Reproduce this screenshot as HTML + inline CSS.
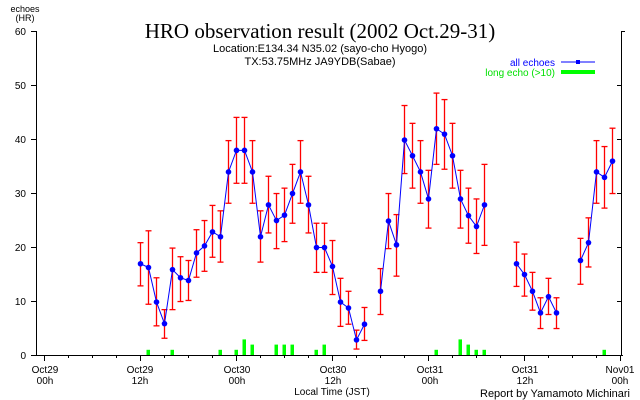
<!DOCTYPE html>
<html><head><meta charset="utf-8"><style>
html,body{margin:0;padding:0;background:#fff;}
svg{display:block;font-family:"Liberation Sans",sans-serif;}
</style></head><body>
<svg id="c" width="640" height="400" viewBox="0 0 640 400" xmlns="http://www.w3.org/2000/svg">
<rect width="640" height="400" fill="#fff"/>
<text x="25" y="12" font-size="9" text-anchor="middle">echoes</text>
<text x="25" y="21" font-size="9" text-anchor="middle">(HR)</text>
<text x="320" y="38" font-family="Liberation Serif,serif" font-size="21" text-anchor="middle">HRO observation result (2002 Oct.29-31)</text>
<text x="320" y="52" font-size="11" text-anchor="middle">Location:E134.34 N35.02 (sayo-cho Hyogo)</text>
<text x="320" y="65" font-size="11" text-anchor="middle">TX:53.75MHz JA9YDB(Sabae)</text>
<text x="555" y="66" font-size="10" fill="#0000ff" text-anchor="end">all echoes</text>
<line x1="561" y1="62" x2="595" y2="62" stroke="#0000ff" stroke-width="1"/>
<rect x="576" y="60" width="4" height="4" fill="#0000ff"/>
<text x="555" y="76" font-size="10" fill="#00e000" text-anchor="end">long echo (&gt;10)</text>
<rect x="561" y="70" width="34" height="4" fill="#00ff00"/>
<g font-size="10" text-anchor="end">
<text x="26" y="35">60</text><text x="26" y="89">50</text><text x="26" y="143">40</text>
<text x="26" y="197">30</text><text x="26" y="251">20</text><text x="26" y="305">10</text><text x="26" y="359">0</text>
</g>
<g font-size="10" text-anchor="middle">
<text x="45" y="373">Oct29</text><text x="45" y="384">00h</text>
<text x="140" y="373">Oct29</text><text x="140" y="384">12h</text>
<text x="237" y="373">Oct30</text><text x="237" y="384">00h</text>
<text x="333" y="373">Oct30</text><text x="333" y="384">12h</text>
<text x="430" y="373">Oct31</text><text x="430" y="384">00h</text>
<text x="525" y="373">Oct31</text><text x="525" y="384">12h</text>
<text x="620" y="373">Nov01</text><text x="620" y="384">00h</text>
<text x="332" y="395">Local Time (JST)</text>
</g>
<text x="630" y="397" font-size="11" text-anchor="end">Report by Yamamoto Michinari</text>
<g id="g"></g>
</svg>
<script>
var Y=function(v){return 355-v*5.4},X=function(h){return 44+8*h};
var s='';
s+='<line x1="36.5" y1="31" x2="36.5" y2="355" stroke="#000"/>';
s+='<line x1="621.5" y1="31" x2="621.5" y2="355" stroke="#000"/>';
s+='<line x1="36" y1="355.5" x2="623" y2="355.5" stroke="#000"/>';
for(var v=0;v<=60;v+=10){s+='<line x1="31" y1="'+(Y(v)+.5)+'" x2="36" y2="'+(Y(v)+.5)+'" stroke="#000"/>';
 if(v>0&&v<60)s+='<line x1="617" y1="'+(Y(v)+.5)+'" x2="621" y2="'+(Y(v)+.5)+'" stroke="#000"/>';}
s+='<line x1="621" y1="31.5" x2="625" y2="31.5" stroke="#000"/>';
for(var h=0;h<=72;h+=3){var L=(h%12==0)?6:3;s+='<line x1="'+(X(h)+.5)+'" y1="355" x2="'+(X(h)+.5)+'" y2="'+(355+L)+'" stroke="#000"/>';}
var bars=[[13,1],[16,1],[22,1],[24,1],[25,3],[26,2],[29,2],[30,2],[31,2],[34,1],[35,2],[49,1],[52,3],[53,2],[54,1],[55,1],[70,1]];
bars.forEach(function(b){s+='<rect x="'+(X(b[0])-1.5)+'" y="'+(355-b[1]*5.2)+'" width="3.5" height="'+(b[1]*5.2)+'" fill="#00ff00"/>';});
var D=[
[12,16.9,20.8,12.8],[13,16.2,23,9.4],[14,9.8,14.3,5.4],[15,5.8,8.4,3.1],[16,15.8,19.8,8.4],[17,14.3,18.2,9.9],[18,13.8,17.5,10.1],[19,18.9,23.2,14.4],[20,20.2,24.9,15.5],[21,22.8,27.7,18.1],[22,21.9,26.7,17.2],[23,33.9,39.7,28.1],[24,37.9,44,31.8],[25,37.9,44,31.8],[26,33.9,39.7,28.1],[27,21.9,26.7,17.2],[28,27.8,33.1,22.6],[29,24.9,29.9,19.7],[30,25.9,30.9,21],[31,29.9,35.3,24.4],[32,33.9,39.7,28.1],[33,27.8,33.1,22.6],[34,19.9,24.4,15.3],[35,19.9,24.4,15.3],[36,16.4,21.2,11.2],[37,9.8,14.2,5.3],[38,8.7,11.8,5.7],[39,2.8,4.6,1.1],[40,5.7,8.8,2.7],
null,[42,11.8,16,7.5],[43,24.8,29.9,19.7],[44,20.4,26,14.6],[45,39.8,46.2,33.6],[46,36.9,42.9,30.9],[47,33.9,39.7,28.1],[48,28.9,34.2,23.5],[49,41.9,48.5,35.3],[50,40.9,47.3,34.4],[51,36.9,42.9,30.9],[52,28.9,34.2,23.5],[53,25.8,30.9,20.7],[54,23.8,28.9,18.8],[55,27.8,35.3,20.3],
null,[59,16.9,20.9,12.7],[60,14.9,18.7,10.9],[61,11.8,15.3,8.3],[62,7.8,10.6,4.9],[63,10.8,14.2,7.5],[64,7.8,10.6,4.9],
null,[67,17.5,21.6,13.1],[68,20.8,25.4,16.3],[69,33.9,39.7,28.1],[70,32.9,38.6,27.2],[71,35.9,42,29.9]];
var seg=[],segs=[];
D.forEach(function(d){if(!d){segs.push(seg);seg=[];return;}seg.push(d);});segs.push(seg);
segs.forEach(function(sg){
 sg.forEach(function(d){var x=X(d[0])+.5;
  s+='<line x1="'+x+'" y1="'+Y(d[2])+'" x2="'+x+'" y2="'+Y(d[3])+'" stroke="#ff0000" stroke-width="1.3"/>';
  s+='<line x1="'+(x-3)+'" y1="'+Y(d[2])+'" x2="'+(x+3)+'" y2="'+Y(d[2])+'" stroke="#ff0000" stroke-width="1.3"/>';
  s+='<line x1="'+(x-3)+'" y1="'+Y(d[3])+'" x2="'+(x+3)+'" y2="'+Y(d[3])+'" stroke="#ff0000" stroke-width="1.3"/>';});
 s+='<polyline fill="none" stroke="#0000ff" stroke-width="1" points="'+sg.map(function(d){return (X(d[0])+.5)+','+Y(d[1])}).join(' ')+'"/>';
 sg.forEach(function(d){s+='<circle cx="'+(X(d[0])+.5)+'" cy="'+Y(d[1])+'" r="2.8" fill="#0000ff"/>';});
});
document.getElementById('g').innerHTML=s;
</script>
</body></html>
